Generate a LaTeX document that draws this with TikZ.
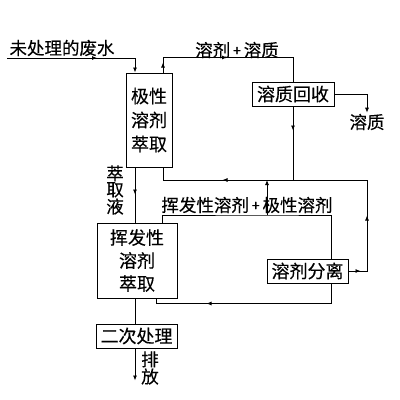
\documentclass[tikz,border=0pt]{standalone}
\usepackage{fontspec}
\setmainfont{Noto Sans CJK SC}[FakeBold=0.3]
\usepackage{tikz}
\usetikzlibrary{positioning,arrows.meta,calc,decorations.markings}
\newcommand{\plus}{\,\raisebox{1pt}{\fontsize{14pt}{14pt}\selectfont +}\,}
\tikzset{
    box/.style={rectangle, draw, line width=1pt, inner sep=0pt, align=center, font=\fontsize{18pt}{24pt}\selectfont},
    lbl/.style={inner sep=1pt, align=center, font=\fontsize{17.5pt}{16pt}\selectfont},
    flow/.style={line width=0.8pt},
    tip/.style={-{Latex[length=5pt,width=4pt]}},
    midtip/.style={postaction={decorate, decoration={markings, mark=at position #1 with {\arrow{Latex[length=5pt,width=4pt]}}}}}
}

\begin{document}
\begin{tikzpicture}[x=1pt, y=-1pt]
\useasboundingbox (0,0) rectangle (400,400);

% Boxes
\node[box, minimum width=46pt, minimum height=94pt] (polar) at (149,120) {极性\\溶剂\\萃取};
\node[box, minimum width=82pt, minimum height=24pt] (recover) at (293,94) {溶质回收};
\node[box, minimum width=80pt, minimum height=75pt, font=\fontsize{18pt}{23pt}\selectfont] (volatile) at (137,260.5) {挥发性\\溶剂\\萃取};
\node[box, minimum width=81pt, minimum height=24pt] (separate) at (307.5,271) {溶剂分离};
\node[box, minimum width=81pt, minimum height=24pt] (second) at (136.5,336) {二次处理};

% Labels
\node[lbl] (raw) at (62,48) {未处理的废水};
\node[lbl] (richlbl) at (237,50) {溶剂\plus 溶质};
\node[lbl] (solute) at (367,122) {溶质};
\node[lbl] (extract) at (115,190) {萃\\取\\液};
\node[lbl] (mixlbl) at (247,205) {挥发性溶剂\plus 极性溶剂};
\node[lbl] (discharge) at (150,368) {排\\放};

% Ports
\coordinate (in) at (7,58);
\coordinate (col) at (135,0);
\coordinate (loop) at (367,180);
\coordinate (mixtap) at (267,215);
\coordinate (polarout) at ($(polar.north)+(14,0)$);
\coordinate (polarback) at ($(polar.south)+(14,0)$);
\coordinate (volup) at ($(volatile.north)+(25,0)$);
\coordinate (volback) at ($(volatile.south)+(19,0)$);
\coordinate (sepin) at ($(separate.north)+(24,0)$);
\coordinate (sepout) at ($(separate.south)+(24,0)$);

% Upper stage
\draw[flow, tip, midtip=90pt] (in) -| (col |- polar.north);
\draw[flow, midtip=10pt, midtip=79pt] (polarout) -- ++(0,-15) -| (recover.north);
\draw[flow, tip] (recover.east) -| (solute.north);
\draw[flow, midtip=24pt] (recover.south) -- (recover.south |- loop);

% Solvent loop
\draw[flow, midtip=12pt, midtip=74pt, midtip=254pt] (separate.east) -| (loop) -| (polarback);
\draw[flow, tip] (mixtap) -- (mixtap |- loop);
\draw[flow] (volup) |- (mixtap) -| (sepin);
\draw[flow, midtip=145pt] (sepout) -- ++(0,20) -| (volback);

% Main column
\draw[flow, midtip=27pt] (col |- polar.south) -- (col |- volatile.north);
\draw[flow] (col |- volatile.south) -- (col |- second.north);
\draw[flow, tip] (col |- second.south) -- ++(0,32);

\end{tikzpicture}
\end{document}
